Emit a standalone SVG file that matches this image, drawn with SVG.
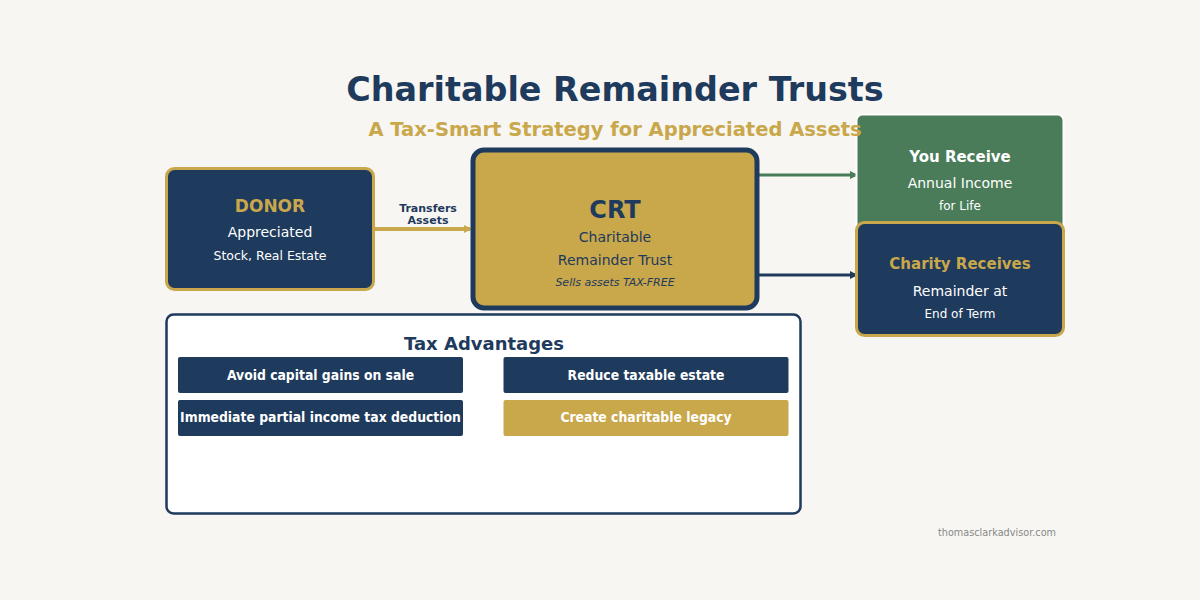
<svg xmlns="http://www.w3.org/2000/svg" width="1200" height="600" viewBox="0 0 1200 600">
<style>
text{font-family:"DejaVu Sans","Liberation Sans",sans-serif;text-anchor:middle}
.b{font-weight:bold}
.w{fill:#ffffff}
.n{fill:#1e3a5c}
.g{fill:#c9a74b}
.item{font-family:"DejaVu Sans Condensed","DejaVu Sans",sans-serif;font-stretch:condensed;font-weight:bold;font-size:13.8px;fill:#ffffff}
</style>
<defs>
<marker id="ag" markerWidth="8" markerHeight="8" refX="6" refY="4" orient="auto" markerUnits="userSpaceOnUse"><path d="M0,0 L8,4 L0,8 z" fill="#c9a74b"/></marker>
<marker id="agr" markerWidth="8" markerHeight="8" refX="7" refY="4" orient="auto" markerUnits="userSpaceOnUse"><path d="M0,0 L8,4 L0,8 z" fill="#4a7c59"/></marker>
<marker id="an" markerWidth="8" markerHeight="8" refX="7" refY="4" orient="auto" markerUnits="userSpaceOnUse"><path d="M0,0 L8,4 L0,8 z" fill="#1e3a5c"/></marker>
</defs>
<rect width="1200" height="600" fill="#f7f6f2"/>

<g id="connectors">
<line x1="374" y1="229" x2="470" y2="229" stroke="#c9a74b" stroke-width="4" marker-end="url(#ag)"/>
<text x="428" y="212" class="b n" font-size="11">Transfers</text>
<text x="428" y="224" class="b n" font-size="11">Assets</text>
<line x1="758" y1="175" x2="857" y2="175" stroke="#4a7c59" stroke-width="3" marker-end="url(#agr)"/>
<line x1="758" y1="275" x2="857" y2="275" stroke="#1e3a5c" stroke-width="3" marker-end="url(#an)"/>
</g>

<g id="donor">
<rect x="166.5" y="168.5" width="207" height="121" rx="8" fill="#1e3a5c" stroke="#c9a74b" stroke-width="3"/>
<text x="270" y="212" class="b g" font-size="17">DONOR</text>
<text x="270" y="237" class="w" font-size="14">Appreciated</text>
<text x="270" y="260" class="w" font-size="12.5">Stock, Real Estate</text>
</g>

<g id="crt">
<rect x="473" y="150" width="284" height="158" rx="11" fill="#c9a74b" stroke="#1e3a5c" stroke-width="5"/>
<text x="615" y="218" class="b n" font-size="24">CRT</text>
<text x="615" y="242" class="n" font-size="14">Charitable</text>
<text x="615" y="265" class="n" font-size="14">Remainder Trust</text>
<text x="615" y="286" class="n" font-size="11" font-style="italic">Sells assets TAX-FREE</text>
</g>

<g id="you-receive">
<rect x="856.5" y="114.5" width="207" height="120" rx="6" fill="#4a7c59" stroke="#ffffff" stroke-width="2"/>
<text x="960" y="162" class="b w" font-size="15">You Receive</text>
<text x="960" y="188" class="w" font-size="14">Annual Income</text>
<text x="960" y="210" class="w" font-size="12">for Life</text>
</g>

<g id="charity">
<rect x="856.5" y="222.5" width="207" height="113" rx="8" fill="#1e3a5c" stroke="#c9a74b" stroke-width="3"/>
<text x="960" y="269" class="b g" font-size="15">Charity Receives</text>
<text x="960" y="296" class="w" font-size="14">Remainder at</text>
<text x="960" y="318" class="w" font-size="12">End of Term</text>
</g>

<g id="tax-advantages">
<rect x="166.5" y="314.5" width="634" height="199" rx="7" fill="#ffffff" stroke="#1e3a5c" stroke-width="2.5"/>
<text x="484" y="350" class="b n" font-size="18">Tax Advantages</text>
<rect x="178" y="357" width="285" height="36" rx="2" fill="#1e3a5c"/>
<text x="320.5" y="380" class="item">Avoid capital gains on sale</text>
<rect x="503.5" y="357" width="285" height="36" rx="2" fill="#1e3a5c"/>
<text x="646" y="380" class="item">Reduce taxable estate</text>
<rect x="178" y="400" width="285" height="36" rx="2" fill="#1e3a5c"/>
<text x="320.5" y="422" class="item">Immediate partial income tax deduction</text>
<rect x="503.5" y="400" width="285" height="36" rx="2" fill="#c9a74b"/>
<text x="646" y="422" class="item">Create charitable legacy</text>
</g>

<text x="615" y="101" class="b n" font-size="33.4">Charitable Remainder Trusts</text>
<text x="615" y="136" class="b g" font-size="19.5">A Tax-Smart Strategy for Appreciated Assets</text>
<text x="1056" y="536" font-size="9.7" fill="#888888" style="text-anchor:end">thomasclarkadvisor.com</text>
</svg>
